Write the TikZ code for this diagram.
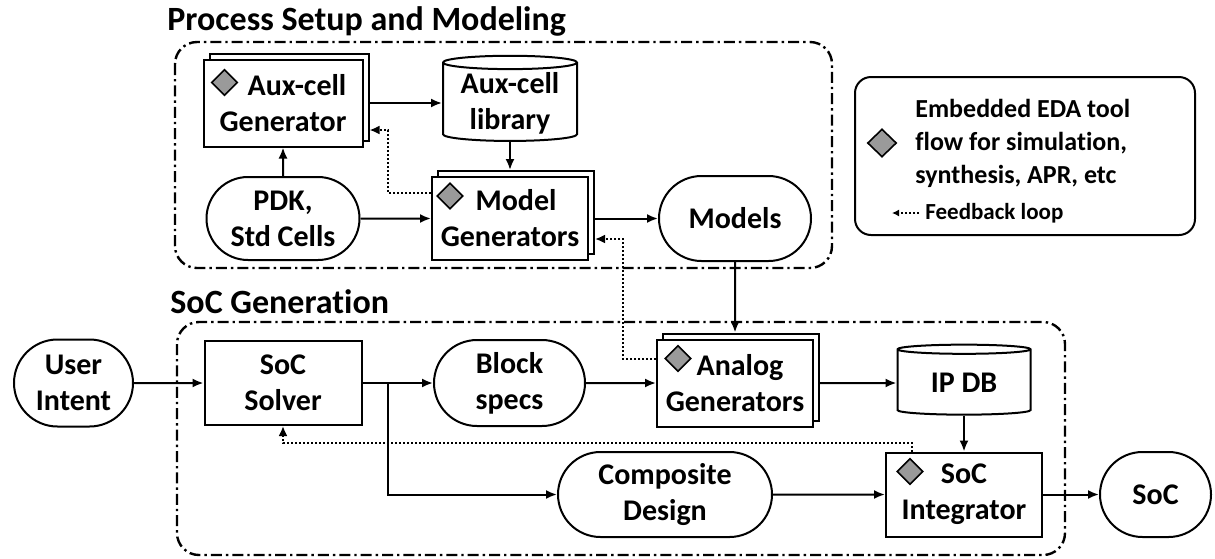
\documentclass[tikz,border=0pt]{standalone}
\usepackage{fontspec}
\setmainfont{Carlito}[Ligatures=NoCommon]
\usetikzlibrary{shapes.geometric,shapes.misc,arrows.meta,shadows,positioning}

\definecolor{toolgray}{HTML}{9A9A9A}

\tikzset{
  box/.style={draw, line width=1pt, fill=white, align=center, inner sep=1pt,
    font=\fontsize{15pt}{18pt}\selectfont\bfseries},
  gen/.style={box, minimum width=78pt, minimum height=42.5pt,
    copy shadow={shadow xshift=3pt, shadow yshift=3pt, draw=black, fill=white, line width=1pt}},
  pill/.style={box, rounded rectangle},
  db/.style={box, cylinder, shape border rotate=90, aspect=0.13},
  tool/.style={diamond, draw, line width=0.8pt, fill=toolgray, inner sep=0pt,
    minimum width=13pt, minimum height=13pt},
  arr/.style={line width=1pt, -{Latex[length=5.5pt,width=4.5pt]}},
  fb/.style={line width=1pt, dash pattern=on 1pt off 1pt, -{Latex[length=5pt,width=4.5pt]}},
  region/.style={draw, line width=1.2pt, rounded corners=11pt,
    dash pattern=on 5.5pt off 2pt on 1.2pt off 2pt},
  title/.style={inner sep=0pt, font=\fontsize{17pt}{20pt}\selectfont\bfseries},
  legtxt/.style={inner sep=0pt, align=left, font=\fontsize{13pt}{16.5pt}\selectfont\bfseries}
}

\begin{document}
\begin{tikzpicture}[x=0.5pt, y=-0.5pt]
\useasboundingbox (0,0) rectangle (1215,558);

\draw[region] (175,42) rectangle (832,268);
\draw[region] (177,322) rectangle (1065,555);
\node[title, anchor=base west] (tsetup) at (167,30) {Process Setup and Modeling};
\node[title, anchor=base west] (tsoc) at (170,313) {SoC Generation};

\node[gen, minimum width=79.5pt, minimum height=43.5pt] (auxgen) at (283,103) {\hspace*{14pt}Aux-cell\\Generator};
\node[db, minimum width=67pt, minimum height=42.5pt] (auxlib) at (510,103) {Aux-cell\\library};
\node[pill, minimum width=78.5pt, minimum height=41.5pt] (pdk) at (283,218.5) {PDK,\\Std Cells};
\node[gen, minimum height=41.5pt] (modelgen) at (510,218.5) {\hspace*{6pt}Model\\Generators};
\node[pill, minimum width=78pt, minimum height=42.5pt] (models) at (735,218.5) {Models};

\node[tool] (t1) at ([shift={(11pt,-12pt)}]auxgen.north west) {};
\node[tool] (t2) at ([shift={(9.5pt,-10pt)}]modelgen.north west) {};

\node[draw, line width=1pt, rounded corners=8pt, minimum width=170pt, minimum height=79pt] (legend) at (1025,156) {};
\node[tool, minimum width=14.5pt, minimum height=14pt] (legtool) at (882,143) {};
\node[legtxt, anchor=west] (legtext) at (915,143) {Embedded EDA tool\\flow for simulation,\\synthesis, APR, etc};
\node[legtxt, anchor=west, font=\fontsize{11.5pt}{14pt}\selectfont\bfseries] (legfb) at (925,213) {Feedback loop};
\draw[fb, -{Latex[length=3.5pt,width=3.5pt]}] ([xshift=-3pt]legfb.west) -- ++(-13.5pt,0);

\node[pill, minimum width=61.5pt, minimum height=43.5pt] (user) at (73.5,383) {User\\Intent};
\node[box, minimum width=78.5pt, minimum height=42pt] (solver) at (283,383) {SoC\\Solver};
\node[pill, minimum width=77.5pt, minimum height=43pt] (block) at (509.5,383) {Block\\specs};
\node[gen, minimum height=43.5pt] (analog) at (735,383) {\hspace*{5pt}Analog\\Generators};
\node[db, minimum width=66.5pt, minimum height=35pt] (ipdb) at (964,383) {IP DB};
\node[pill, minimum width=109pt, minimum height=42.5pt] (composite) at (665,494.5) {Composite\\Design};
\node[box, minimum width=78pt, minimum height=42pt] (socint) at (964,494.5) {SoC\\Integrator};
\node[pill, minimum width=57.5pt, minimum height=42.5pt] (soc) at (1155.5,494.5) {SoC};

\node[tool] (t3) at ([shift={(11pt,-10pt)}]analog.north west) {};
\node[tool] (t4) at ([shift={(12.5pt,-10pt)}]socint.north west) {};

\coordinate (fbA) at (388,130);
\coordinate (fbB) at (623,239);
\coordinate (fbC) at (283,443);
\coordinate (split) at (388,383);

\draw[arr] ([xshift=3pt]auxgen.east) -- (auxlib.west);
\draw[arr] (pdk) -- (auxgen);
\draw[arr] (pdk) -- (modelgen);
\draw[arr] (auxlib) -- ([yshift=3pt]modelgen.north);
\draw[arr] ([xshift=3pt]modelgen.east) -- (models);
\draw[arr] (models) -- ([yshift=3pt]analog.north);
\draw[fb] ([yshift=12.75pt]modelgen.west) -| (fbA) -- ([xshift=3pt]fbA -| auxgen.east);
\draw[fb] ([yshift=12pt]analog.west) -| (fbB) -- ([xshift=3pt]fbB -| modelgen.east);

\draw[arr] (user) -- (solver);
\draw[arr] (solver) -- (block);
\draw[arr] (block) -- (analog);
\draw[arr] (split) |- (composite.west);
\draw[arr] ([xshift=3pt]analog.east) -- (ipdb.west);
\draw[arr] (ipdb) -- (socint);
\draw[arr] (composite) -- (socint);
\draw[arr] (socint) -- (soc);
\draw[fb] ([xshift=-26pt]socint.north) |- (fbC) -- (solver.south);
\end{tikzpicture}
\end{document}
